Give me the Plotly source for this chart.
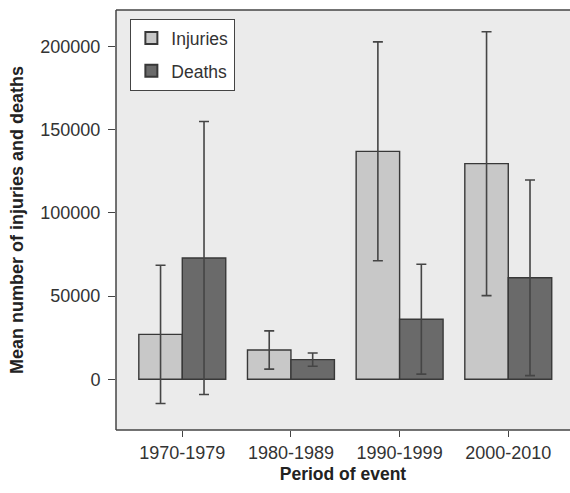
import plotly.graph_objects as go

periods = ["1970-1979", "1980-1989", "1990-1999", "2000-2010"]
injuries = [27000, 17600, 137000, 129600]
injuries_err = [41500, 11500, 65800, 79300]
deaths = [72900, 11800, 36100, 61000]
deaths_err = [82000, 4000, 33000, 58800]
y_ticks = [0, 50000, 100000, 150000, 200000]

font_family = "Liberation Sans, Arial, sans-serif"
err_style = dict(type="data", symmetric=True, color="#454545", thickness=1.6, width=5)

fig = go.Figure()
fig.add_trace(go.Bar(
    name="Injuries", x=periods, y=injuries, legendgroup="a",
    marker=dict(color="#c8c8c8", line=dict(color="#383838", width=1.4)),
    error_y=dict(array=injuries_err, **err_style),
))
fig.add_trace(go.Bar(
    name="Deaths", x=periods, y=deaths, legendgroup="b",
    marker=dict(color="#6a6a6a", line=dict(color="#383838", width=1.4)),
    error_y=dict(array=deaths_err, **err_style),
))

# plot frame: left, top, bottom (right side runs off the image)
frame = dict(color="#444444", width=1.5)
fig.add_shape(type="line", xref="paper", yref="paper", x0=0, x1=0, y0=0, y1=1, line=frame, layer="above")
fig.add_shape(type="line", xref="paper", yref="paper", x0=0, x1=1, y0=1, y1=1, line=frame, layer="above")
fig.add_shape(type="line", xref="paper", yref="paper", x0=0, x1=1, y0=0, y1=0, line=frame, layer="above")

fig.update_layout(
    width=570, height=493,
    margin=dict(l=116, r=0, t=10, b=63),
    paper_bgcolor="white", plot_bgcolor="#ebebeb",
    barmode="group", bargap=0.2, bargroupgap=0,
    font=dict(family=font_family, size=18, color="#333333"),
    showlegend=True,
    legend=dict(
        x=0.031, y=0.979, xanchor="left", yanchor="top",
        bgcolor="white", bordercolor="#444444", borderwidth=1.3,
        font=dict(size=17.5, color="#333333"),
        tracegroupgap=7, itemsizing="constant",
    ),
    xaxis=dict(
        range=[-0.61, 3.568], showgrid=False, zeroline=False, showline=False,
        ticks="outside", ticklen=6, tickcolor="#444444", tickwidth=1.2,
        tickfont=dict(size=18, color="#333333"),
        title=dict(text="<b>Period of event</b>", font=dict(size=17.5, color="#222222"), standoff=6),
    ),
    yaxis=dict(
        range=[-30470, 221935], tickvals=y_ticks, tickformat="d",
        showgrid=False, zeroline=False, showline=False,
        ticks="outside", ticklen=7, tickcolor="#444444", tickwidth=1.2,
        ticklabelstandoff=4,
        tickfont=dict(size=18, color="#333333"),
        title=dict(text="<b>Mean number of injuries and deaths</b>", font=dict(size=18, color="#222222"), standoff=12),
    ),
)

fig.write_html("out.html", config={"displayModeBar": False})
